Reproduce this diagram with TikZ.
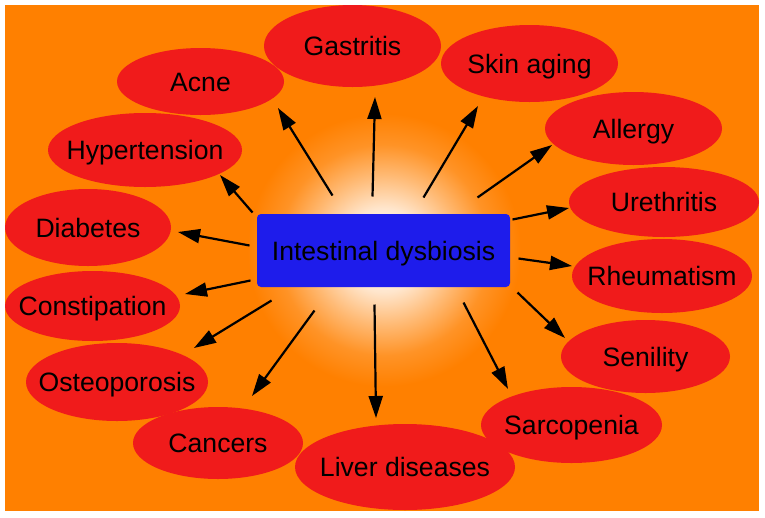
\documentclass[tikz,border=0pt]{standalone}
\usepackage{fontspec}
\setmainfont{Liberation Sans}
\usetikzlibrary{arrows.meta,shapes.geometric}
\definecolor{bgorange}{RGB}{255,128,0}
\definecolor{ellred}{RGB}{240,27,27}
\definecolor{hubblue}{RGB}{30,28,235}
\colorlet{glowA}{bgorange!20!white}
\colorlet{glowB}{bgorange!55!white}
\colorlet{glowC}{bgorange!85!white}
\pgfdeclareradialshading{glow}{\pgfpoint{0bp}{0bp}}{color(0bp)=(white); color(12bp)=(white); color(42bp)=(glowA); color(75bp)=(glowB); color(105bp)=(glowC); color(136bp)=(bgorange); color(150bp)=(bgorange)}
\newcommand\lb[1]{\makebox[0pt]{#1}}
\tikzset{
  every node/.style={font=\fontsize{26.6}{30}\selectfont, text=black},
  dis/.style={ellipse, fill=ellred, inner sep=0pt, outer sep=0pt, text height=19pt, text depth=0pt},
  hubbox/.style={rectangle, rounded corners=4pt, fill=hubblue, inner sep=0pt, outer sep=0pt,
    minimum width=253pt, minimum height=73pt, text height=19pt, text depth=0pt},
  arr/.style={line width=2.2pt, -{Triangle[length=22pt,width=14pt]}}
}
\begin{document}
\begin{tikzpicture}[x=1pt,y=-1pt]
\useasboundingbox (0,0) rectangle (765,517);
\fill[white] (0,0) rectangle (765,517);
\fill[bgorange] (4.5,4.5) rectangle (758.5,511);
\begin{scope}
  \clip (384,250) circle[radius=138pt];
  \pgftext[at=\pgfpoint{384pt}{-250pt}]{\pgfuseshading{glow}}
\end{scope}

\node[hubbox] (hub) at (383.5,250.5) {Intestinal dysbiosis};

\node[dis, minimum width=167pt, minimum height=67pt] (acne) at (200.5,81.5) {\lb{Acne}};
\node[dis, minimum width=177pt, minimum height=82pt] (gastritis) at (352.5,46) {\lb{Gastritis}};
\node[dis, minimum width=177pt, minimum height=77pt] (skin) at (529.5,63.5) {\lb{Skin aging}};
\node[dis, minimum width=177pt, minimum height=73pt] (allergy) at (633.5,128.5) {\lb{Allergy}};
\node[dis, minimum width=190pt, minimum height=70pt] (urethritis) at (664,202) {\lb{Urethritis}};
\node[dis, minimum width=180pt, minimum height=74pt] (rheum) at (662,276) {\lb{Rheumatism}};
\node[dis, minimum width=169pt, minimum height=73pt] (senility) at (645.5,356.5) {\lb{Senility}};
\node[dis, minimum width=181pt, minimum height=76pt] (sarco) at (571.5,425) {\lb{Sarcopenia}};
\node[dis, minimum width=220pt, minimum height=86pt] (liver) at (405,467) {\lb{Liver diseases}};
\node[dis, minimum width=170pt, minimum height=72pt] (cancers) at (218,443) {\lb{Cancers}};
\node[dis, minimum width=182pt, minimum height=78pt] (osteo) at (117,382) {\lb{Osteoporosis}};
\node[dis, minimum width=175pt, minimum height=70pt] (constip) at (92.5,306) {\lb{Constipation}};
\node[dis, minimum width=166pt, minimum height=77pt] (diabetes) at (88,227.5) {\lb{Diabetes}};
\node[dis, minimum width=194pt, minimum height=74pt] (hyper) at (145,150) {\lb{Hypertension}};

\draw[arr] ([shift={(-51,-55)}]hub.center) -- ([shift={(77.5,26.5)}]acne.center);
\draw[arr] ([shift={(-11,-54)}]hub.center) -- ([shift={(22.5,51)}]gastritis.center);
\draw[arr] ([shift={(40,-53)}]hub.center) -- ([shift={(-51.5,42.5)}]skin.center);
\draw[arr] ([shift={(94,-53)}]hub.center) -- ([shift={(-81.5,16.5)}]allergy.center);
\draw[arr] ([shift={(129,-31)}]hub.center) -- ([shift={(-95,6)}]urethritis.center);
\draw[arr] ([shift={(135,8)}]hub.center) -- ([shift={(-90,-10)}]rheum.center);
\draw[arr] ([shift={(134,42)}]hub.center) -- ([shift={(-80.5,-18.5)}]senility.center);
\draw[arr] ([shift={(80,52)}]hub.center) -- ([shift={(-63.5,-36)}]sarco.center);
\draw[arr] ([shift={(-9,54)}]hub.center) -- ([shift={(-29,-49)}]liver.center);
\draw[arr] ([shift={(-69,60)}]hub.center) -- ([shift={(34,-47)}]cancers.center);
\draw[arr] ([shift={(-112,50)}]hub.center) -- ([shift={(77,-34)}]osteo.center);
\draw[arr] ([shift={(-133,30)}]hub.center) -- ([shift={(92.5,-12)}]constip.center);
\draw[arr] ([shift={(-134,-5)}]hub.center) -- ([shift={(90,4.5)}]diabetes.center);
\draw[arr] ([shift={(-131,-38)}]hub.center) -- ([shift={(75,25)}]hyper.center);
\end{tikzpicture}
\end{document}
